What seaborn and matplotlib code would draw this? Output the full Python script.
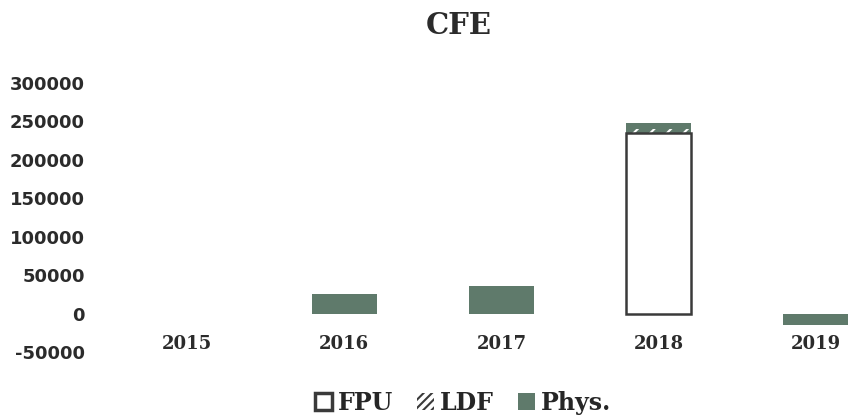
import matplotlib
matplotlib.use("Agg")
import matplotlib.pyplot as plt
from matplotlib.patches import Patch
import seaborn as sns
import pandas as pd

# values
years = ['2015', '2016', '2017', '2018', '2019']
fpu = [0, 0, 0, 235000, 0]
ldf = [0, 0, 0, 4000, 0]
phys = [0, 25500, 36000, 9000, -15000]
y_ticks = [-50000, 0, 50000, 100000, 150000, 200000, 250000, 300000]

PHYS_COLOR = '#5f7a6b'
EDGE_COLOR = '#3a3a3a'
BAR_WIDTH = 0.414


def main():
    sns.set_style('white')
    plt.rcParams['font.family'] = ['DejaVu Serif']
    plt.rcParams['hatch.linewidth'] = 1.5

    df = pd.DataFrame({'year': years, 'FPU': fpu, 'LDF': ldf, 'Phys': phys})
    # stack tops, drawn tallest first so lower layers cover them
    df['top_ldf'] = df['FPU'] + df['LDF']
    df['top_phys'] = df['top_ldf'] + df['Phys']

    fig = plt.figure(figsize=(8.5, 4.19), dpi=100)
    ax = fig.add_axes([108.5 / 850, 1 - 352 / 419, 786 / 850, 269.5 / 419])

    sns.barplot(data=df, x='year', y='top_phys', order=years, color=PHYS_COLOR,
                saturation=1, width=BAR_WIDTH, linewidth=0, ax=ax)
    sns.barplot(data=df, x='year', y='top_ldf', order=years, color=PHYS_COLOR,
                saturation=1, width=BAR_WIDTH, edgecolor='white', linewidth=0,
                hatch='//', ax=ax)
    m = len(ax.patches)
    sns.barplot(data=df, x='year', y='FPU', order=years, color='white',
                saturation=1, width=BAR_WIDTH, edgecolor=EDGE_COLOR, linewidth=1.8,
                ax=ax)
    for p in ax.patches[m:]:
        if p.get_height() == 0:
            p.set_linewidth(0)

    ax.set_xlim(-0.5, 4.5)
    ax.set_ylim(-50000, 300000)
    ax.set_yticks(y_ticks)
    ax.set_yticklabels([str(t) for t in y_ticks], family='DejaVu Sans',
                       fontweight='bold', fontsize=13, color='#2b2b2b')
    ax.set_xticks(range(len(years)))
    ax.set_xticklabels(years, fontweight='bold', fontsize=13, color='#2b2b2b')
    ax.tick_params(axis='x', length=0, pad=-12)
    ax.tick_params(axis='y', length=0, pad=17)
    ax.set_xlabel('')
    ax.set_ylabel('')
    sns.despine(ax=ax, left=True, bottom=True)
    ax.grid(False)

    fig.text(459 / 850, 1 - 25 / 419, 'CFE', ha='center', va='center',
             fontsize=21, fontweight='bold', color='#2b2b2b')

    handles = [
        Patch(facecolor='white', edgecolor=EDGE_COLOR, linewidth=2.5),
        Patch(facecolor='white', edgecolor=EDGE_COLOR, linewidth=0, hatch='////'),
        Patch(facecolor=PHYS_COLOR, edgecolor='none'),
    ]
    fig.legend(handles, ['FPU', 'LDF', 'Phys.'], loc='center',
               bbox_to_anchor=(463 / 850, 1 - 403 / 419), ncol=3, frameon=False,
               handlelength=0.72, handleheight=0.72, handletextpad=0.25,
               columnspacing=1.0, borderaxespad=0, borderpad=0,
               prop={'weight': 'bold', 'size': 17})

    fig.savefig('out.png', dpi=100)


if __name__ == "__main__":
    main()
